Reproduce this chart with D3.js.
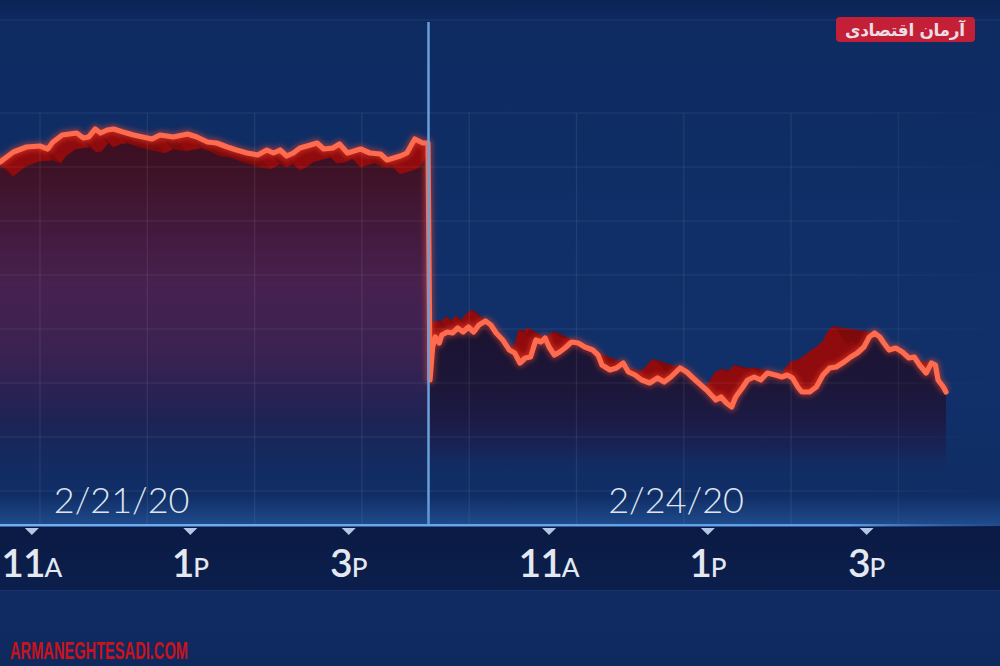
<!DOCTYPE html>
<html>
<head>
<meta charset="utf-8">
<script src="https://cdn.jsdelivr.net/npm/d3@7"></script>
<style>
  html, body { margin: 0; padding: 0; background: #0f2c63; }
  svg { display: block; }
</style>
</head>
<body>
<svg width="1000" height="666"></svg>
<script>
// minutes after the 9:30 open, and index level, for each session
var day1Minutes = [0, 13, 28, 43, 55, 66, 76, 86, 96, 102, 106, 113, 124, 129, 133, 138, 142, 147, 152, 159,
  167, 174, 181, 187, 197, 208, 215, 223, 230, 238, 245, 253, 261, 268, 273, 278, 283, 288, 293, 301,
  306, 311, 318, 323, 329, 339, 346, 354, 359, 369, 374, 380, 386, 390];
var day1Values = [29020, 29036, 29048, 29020, 28980, 28932, 28972, 28992, 28996, 28984, 29012, 29040, 29048, 29028, 29032, 29064, 29048, 29060, 29064, 29052,
  29040, 29032, 29024, 29040, 29032, 29044, 29032, 29012, 29008, 28992, 28980, 28968, 28960, 28980, 28968, 28980, 28956, 28968, 28988, 29000,
  29008, 28984, 28988, 29004, 28968, 28984, 28968, 28964, 28940, 28956, 28968, 29024, 29008, 29008];

var day2Minutes = [0, 2, 4, 7, 9, 13, 17, 21, 25, 29, 33, 37, 42, 46, 50, 55, 60, 64, 68, 72,
  76, 80, 84, 87, 90, 94, 98, 102, 107, 112, 117, 123, 127, 130, 136, 141, 146, 150, 155, 160,
  166, 172, 177, 182, 189, 194, 198, 203, 209, 214, 216, 220, 224, 228, 231, 236, 240, 245, 250, 255,
  261, 266, 270, 274, 278, 281, 287, 292, 297, 302, 307, 313, 318, 323, 328, 332, 336, 340, 343, 347,
  352, 357, 362, 366, 370, 375, 379, 382, 384, 388, 390];
var day2Values = [28060, 28192, 28232, 28208, 28240, 28252, 28248, 28268, 28252, 28272, 28252, 28280, 28296, 28280, 28248, 28220, 28180, 28168, 28128, 28148,
  28152, 28220, 28212, 28228, 28192, 28160, 28172, 28188, 28212, 28208, 28192, 28180, 28160, 28120, 28100, 28108, 28128, 28092, 28080, 28060,
  28048, 28068, 28052, 28072, 28108, 28092, 28072, 28048, 28020, 27992, 27980, 27992, 27968, 27952, 27992, 28028, 28060, 28072, 28060, 28088,
  28080, 28072, 28080, 28068, 28032, 28012, 28012, 28032, 28080, 28108, 28112, 28132, 28152, 28168, 28192, 28232, 28248, 28232, 28208, 28180,
  28188, 28172, 28148, 28152, 28120, 28088, 28128, 28120, 28060, 28032, 28012];

var dateLabels = ['2/21/20', '2/24/20'];
var dateMinutes = [158, 186];
var tickMinutes = [90, 210, 330];
var tickHours = ['11', '1', '3'];
var tickSuffix = ['A', 'P', 'P'];
var gridValues = [29128, 28912, 28696, 28480, 28264, 28048, 27832, 27616];

(function() {
  var svg = d3.select('svg');
  var W = 1000, H = 666;
  var defs = svg.append('defs');

  var xDay1 = d3.scaleLinear().domain([0, 390]).range([-87, 428]);
  var xDay2 = d3.scaleLinear().domain([0, 390]).range([430, 946]);
  var y = d3.scaleLinear().domain([27900, 29100]).range([420, 120]);

  var day1 = day1Minutes.map(function(m, i) { return [xDay1(m), y(day1Values[i])]; });
  var day2 = day2Minutes.map(function(m, i) { return [xDay2(m), y(day2Values[i])]; });

  function grad(id, horiz, a, b, stops) {
    var g = defs.append('linearGradient').attr('id', id)
      .attr('gradientUnits', 'userSpaceOnUse')
      .attr('x1', horiz ? a : 0).attr('x2', horiz ? b : 0)
      .attr('y1', horiz ? 0 : a).attr('y2', horiz ? 0 : b);
    stops.forEach(function(s) {
      g.append('stop').attr('offset', s[0]).attr('stop-color', s[1]).attr('stop-opacity', s[2] == null ? 1 : s[2]);
    });
  }

  grad('bg', false, 0, H, [[0, '#0b2456'], [0.04, '#0e2b62'], [0.5, '#11306a'], [0.9, '#0f2b62'], [1, '#0e295e']]);
  grad('fill1', false, 125, 505, [[0, '#3a0c1f'], [0.12, '#3e1226'], [0.28, '#431a3e'], [0.42, '#47214f'], [0.6, '#3a2252'],
    [0.78, '#1d2354'], [0.9, '#152a5e', 0.6], [1, '#11306a', 0]]);
  grad('fill2', false, 320, 480, [[0, '#1a1230'], [0.4, '#1c1638'], [0.62, '#1c1a44'], [0.8, '#1a1f4e', 0.7], [1, '#13306a', 0]]);
  grad('glowUp', false, 495, 526, [[0, '#3f86d8', 0], [1, '#3f86d8', 0.35]]);
  grad('bar', false, 526, 590, [[0, '#0a1a44'], [1, '#0c1f4c']]);
  grad('axisLine', true, 0, 1000, [[0, '#6fb0f5'], [0.85, '#5c9ee8'], [0.97, '#3b6fbf', 0.3], [1, '#3b6fbf', 0]]);
  grad('gridFade', true, 0, 1000, [[0, '#ffffff', 1], [0.85, '#ffffff', 1], [1, '#ffffff', 0]]);

  var blur = defs.append('filter').attr('id', 'glow').attr('x', -0.1).attr('y', -0.1).attr('width', 1.2).attr('height', 1.2);
  blur.append('feGaussianBlur').attr('stdDeviation', 2.5);

  defs.append('clipPath').attr('id', 'clip1').append('rect')
    .attr('x', -100).attr('y', 0).attr('width', 527).attr('height', 526);
  defs.append('clipPath').attr('id', 'clip2').append('rect')
    .attr('x', 430).attr('y', 0).attr('width', 570).attr('height', 526);

  svg.append('rect').attr('width', W).attr('height', H).attr('fill', 'url(#bg)');
  svg.append('line').attr('x1', 0).attr('x2', W).attr('y1', 20).attr('y2', 20)
    .attr('stroke', '#2d4f8c').attr('stroke-opacity', 0.45).attr('stroke-width', 1);

  // extruded red band: each segment swept to its shifted copy
  function ribbon(pts, offset, clip) {
    var g = svg.append('g').attr('clip-path', 'url(#' + clip + ')');
    var far = pts.map(function(p) { var o = offset(p[0]); return [p[0] + o[0], p[1] + o[1]]; });
    for (var i = 0; i < pts.length - 1; i++) {
      var a = pts[i], b = pts[i + 1];
      var slope = (b[1] - a[1]) / Math.max(1, b[0] - a[0]);
      var col = slope < 0 ? '#900b0e' : '#7e0a0c';
      g.append('polygon')
        .attr('points', [a, b, far[i + 1], far[i]].map(function(p) { return p.join(','); }).join(' '))
        .attr('fill', col).attr('stroke', col).attr('stroke-width', 0.6);
    }
  }

  var area = d3.area().x(function(d) { return d[0]; }).y0(505).y1(function(d) { return d[1]; });

  // second session: band sits behind the filled area, deeper to the right
  ribbon(day2, function(x) { return [-0.072 * (x - 300), -11 + (x - 485) * 0.012]; }, 'clip2');
  svg.append('path').datum(day2).attr('d', area.y0(480)).attr('fill', 'url(#fill2)');

  // first session: band sits in front of the filled area
  svg.append('path').datum(day1).attr('d', area.y0(505)).attr('fill', 'url(#fill1)');
  ribbon(day1, function(x) { return [13, 14]; }, 'clip1');

  // grid
  var grid = svg.append('g').attr('stroke', 'url(#gridFade)').attr('stroke-opacity', 0.075).attr('stroke-width', 1.2);
  grid.selectAll('line.h').data(gridValues).enter().append('line')
    .attr('x1', 0).attr('x2', W)
    .attr('y1', function(d) { return y(d); }).attr('y2', function(d) { return y(d); });
  grid.selectAll('line.v').data(d3.range(40, 960, 107.3)).enter().append('line')
    .attr('x1', function(d) { return d; }).attr('x2', function(d) { return d; })
    .attr('y1', y(gridValues[0])).attr('y2', 524);

  // the price line
  var line = d3.line().x(function(d) { return d[0]; }).y(function(d) { return d[1]; });
  var all = day1.concat(day2);
  svg.append('path').datum(all).attr('d', line).attr('fill', 'none')
    .attr('stroke', '#ff4a2e').attr('stroke-opacity', 0.45).attr('stroke-width', 9)
    .attr('stroke-linejoin', 'round').attr('filter', 'url(#glow)');
  svg.append('path').datum(all).attr('d', line).attr('fill', 'none')
    .attr('stroke', '#ff6b4f').attr('stroke-width', 5.2)
    .attr('stroke-linejoin', 'round').attr('stroke-linecap', 'round');

  // session divider
  svg.append('line').attr('x1', 428.5).attr('x2', 428.5).attr('y1', 22).attr('y2', 526)
    .attr('stroke', '#3f7fd0').attr('stroke-opacity', 0.5).attr('stroke-width', 6).attr('filter', 'url(#glow)');
  svg.append('line').attr('x1', 428.5).attr('x2', 428.5).attr('y1', 22).attr('y2', 526)
    .attr('stroke', '#6a9fd8').attr('stroke-width', 2.5);

  // time axis bar
  svg.append('rect').attr('x', 0).attr('y', 495).attr('width', W).attr('height', 31).attr('fill', 'url(#glowUp)');
  svg.append('rect').attr('x', 0).attr('y', 526).attr('width', W).attr('height', 64).attr('fill', 'url(#bar)');
  svg.append('rect').attr('x', 0).attr('y', 524).attr('width', W).attr('height', 2.5).attr('fill', 'url(#axisLine)');
  svg.append('line').attr('x1', 0).attr('x2', W).attr('y1', 590.5).attr('y2', 590.5)
    .attr('stroke', '#1a3876').attr('stroke-opacity', 0.6);

  var ticks = [];
  [xDay1, xDay2].forEach(function(sc) {
    tickMinutes.forEach(function(m, i) { ticks.push({ x: sc(m), h: tickHours[i], s: tickSuffix[i] }); });
  });
  svg.selectAll('path.tri').data(ticks).enter().append('path')
    .attr('d', function(d) { return 'M' + (d.x - 7) + ',528 L' + (d.x + 7) + ',528 L' + d.x + ',535 Z'; })
    .attr('fill', '#b3c8e6');
  var lab = svg.selectAll('text.tick').data(ticks).enter().append('text')
    .attr('x', function(d) { return d.x; }).attr('y', 577)
    .attr('text-anchor', 'middle')
    .style('font-family', 'Lato, "Open Sans", sans-serif')
    .attr('fill', '#e3e8f1');
  lab.append('tspan').style('font-size', '39px').style('font-weight', 600).attr('letter-spacing', -1)
    .text(function(d) { return d.h; });
  lab.append('tspan').style('font-size', '26px').style('font-weight', 500)
    .text(function(d) { return d.s; });

  // session dates
  svg.selectAll('text.date').data(dateLabels).enter().append('text')
    .attr('x', function(d, i) { return (i === 0 ? xDay1 : xDay2)(dateMinutes[i]); })
    .attr('y', 513)
    .attr('text-anchor', 'middle')
    .style('font-family', 'Lato, "Open Sans", sans-serif')
    .style('font-size', '36px').style('font-weight', 300)
    .attr('fill', '#dfe6f1')
    .text(function(d) { return d; });

  // logo and watermark
  svg.append('rect').attr('x', 836).attr('y', 17).attr('width', 139).attr('height', 25).attr('rx', 4)
    .attr('fill', '#c31f37');
  svg.append('text').attr('x', 905).attr('y', 36).attr('text-anchor', 'middle')
    .attr('direction', 'rtl')
    .attr('textLength', 120).attr('lengthAdjust', 'spacing')
    .style('font-family', '"DejaVu Sans", sans-serif').style('font-size', '17px').style('font-weight', 'bold')
    .attr('fill', '#eadde2')
    .text('آرمان  اقتصادی');
  svg.append('text').attr('x', 10).attr('y', 659)
    .attr('textLength', 178).attr('lengthAdjust', 'spacingAndGlyphs')
    .style('font-family', '"Liberation Sans Narrow", "Liberation Sans", sans-serif')
    .style('font-size', '23px').style('font-weight', 'bold')
    .attr('fill', '#c8131d')
    .text('ARMANEGHTESADI.COM');
})();
</script>
</body>
</html>
